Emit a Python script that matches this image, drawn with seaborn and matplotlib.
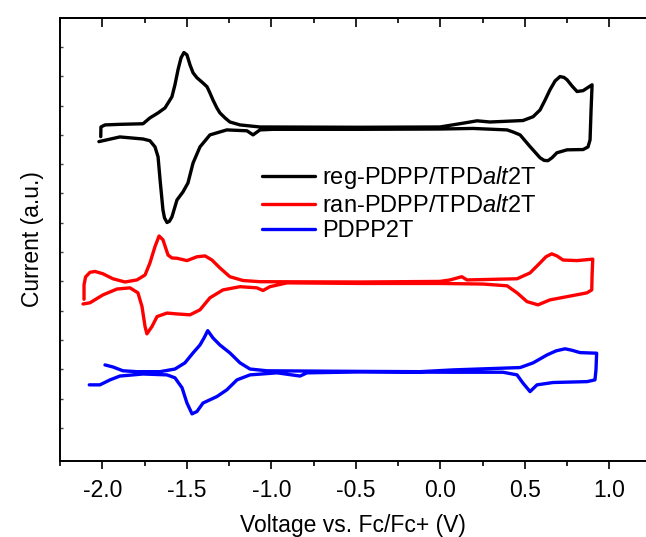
import numpy as np
import pandas as pd
import matplotlib
matplotlib.use('Agg')
import matplotlib.pyplot as plt
from matplotlib.ticker import MultipleLocator
import seaborn as sns

# cyclic voltammograms (V vs Fc/Fc+, current in a.u. with offsets)
reg_v = [-2.009, -2.008, -1.984, -1.896, -1.759, -1.718, -1.670, -1.629, -1.588, -1.570,
         -1.552, -1.534, -1.517, -1.499, -1.481, -1.463, -1.440, -1.404, -1.380, -1.363,
         -1.345, -1.322, -1.304, -1.274, -1.245, -1.185, -1.067, -0.475, -0.002, 0.146,
         0.217, 0.294, 0.489, 0.549, 0.590, 0.620, 0.649, 0.679, 0.708, 0.732,
         0.750, 0.779, 0.809, 0.845, 0.874, 0.898, 0.892, 0.886, 0.874, 0.845,
         0.750, 0.690, 0.661, 0.637, 0.614, 0.590, 0.531, 0.472, 0.430, 0.395, 0.193,
         -0.002, -0.475, -0.990, -1.067, -1.108, -1.144, -1.263, -1.363, -1.422, -1.463,
         -1.493, -1.523, -1.558, -1.588, -1.603, -1.617, -1.632, -1.641, -1.658, -1.670,
         -1.688, -1.718, -1.759, -1.896, -2.020]
reg_i = [9.94, 10.27, 10.34, 10.36, 10.38, 10.58, 10.75, 10.92, 11.30, 11.71,
         12.22, 12.63, 12.81, 12.73, 12.39, 12.12, 11.95, 11.77, 11.64, 11.43,
         11.19, 10.92, 10.75, 10.58, 10.44, 10.34, 10.27, 10.26, 10.27, 10.41,
         10.48, 10.44, 10.49, 10.62, 10.85, 11.19, 11.54, 11.84, 11.99, 11.96,
         11.88, 11.67, 11.48, 11.51, 11.62, 11.71, 10.85, 9.83, 9.59, 9.50,
         9.49, 9.39, 9.22, 9.12, 9.13, 9.22, 9.60, 10.00, 10.10, 10.17, 10.22,
         10.20, 10.19, 10.19, 10.17, 10.00, 10.14, 10.17, 10.00, 9.59, 9.04,
         8.36, 8.05, 7.78, 7.20, 7.05, 7.01, 7.17, 7.44, 8.46, 9.25,
         9.59, 9.80, 9.86, 9.93, 9.77]

ran_v = [-2.108, -2.108, -2.099, -2.073, -2.043, -1.996, -1.937, -1.866, -1.795, -1.747,
         -1.718, -1.688, -1.664, -1.641, -1.611, -1.588, -1.558, -1.499, -1.440, -1.392,
         -1.351, -1.304, -1.245, -1.167, -1.067, -0.475, -0.002, 0.057, 0.127, 0.158,
         0.454, 0.531, 0.590, 0.625, 0.659, 0.690, 0.726, 0.809, 0.902, 0.898,
         0.896, 0.868, 0.750, 0.649, 0.578, 0.513, 0.454, 0.395, 0.253, -0.002,
         -0.475, -0.907, -1.008, -1.049, -1.085, -1.185, -1.286, -1.363, -1.422, -1.481,
         -1.558, -1.617, -1.676, -1.706, -1.736, -1.747, -1.765, -1.789, -1.836, -1.913,
         -1.996, -2.073, -2.114]
ran_i = [4.39, 4.88, 5.15, 5.31, 5.34, 5.26, 5.09, 4.98, 5.05, 5.22,
         5.63, 6.19, 6.55, 6.42, 5.90, 5.80, 5.79, 5.71, 5.84, 5.87,
         5.73, 5.46, 5.16, 5.03, 4.99, 4.98, 5.00, 5.05, 5.16, 5.05,
         5.09, 5.29, 5.63, 5.84, 5.94, 5.87, 5.73, 5.71, 5.76, 5.22,
         4.71, 4.61, 4.48, 4.37, 4.20, 4.31, 4.61, 4.85, 4.91, 4.93,
         4.93, 4.95, 4.82, 4.69, 4.78, 4.82, 4.71, 4.44, 4.03, 3.86,
         3.89, 3.92, 3.80, 3.46, 3.21, 3.46, 4.14, 4.61, 4.78, 4.74,
         4.54, 4.27, 4.23]

pdpp_v = [-1.984, -1.937, -1.878, -1.795, -1.658, -1.570, -1.511, -1.463, -1.422, -1.398,
          -1.376, -1.345, -1.304, -1.245, -1.185, -1.126, -1.026, -0.475, -0.120, 0.075,
          0.472, 0.549, 0.631, 0.685, 0.738, 0.779, 0.827, 0.925, 0.921, 0.915,
          0.868, 0.667, 0.572, 0.531, 0.489, 0.454, 0.371, 0.075, -0.475, -0.789,
          -0.830, -0.966, -1.126, -1.203, -1.263, -1.322, -1.404, -1.440, -1.469, -1.499,
          -1.528, -1.570, -1.617, -1.759, -1.896, -1.954, -2.014, -2.077]
pdpp_i = [2.15, 2.08, 1.95, 1.92, 1.92, 2.01, 2.22, 2.56, 2.83, 3.07,
          3.32, 3.07, 2.83, 2.56, 2.22, 2.01, 1.95, 1.93, 1.92, 1.98,
          2.06, 2.22, 2.49, 2.63, 2.70, 2.65, 2.57, 2.55, 1.98, 1.64,
          1.58, 1.55, 1.47, 1.24, 1.53, 1.81, 1.90, 1.90, 1.91, 1.88,
          1.77, 1.88, 1.81, 1.64, 1.30, 1.07, 0.85, 0.56, 0.48, 0.85,
          1.37, 1.71, 1.81, 1.84, 1.77, 1.64, 1.47, 1.47]

labels = ['reg-PDPP/TPD$\\mathit{alt}$2T', 'ran-PDPP/TPD$\\mathit{alt}$2T', 'PDPP2T']
colors = ['#000000', '#ff0000', '#0000ff']

df = pd.concat([
    pd.DataFrame({'V': reg_v, 'I': reg_i, 'sample': labels[0]}),
    pd.DataFrame({'V': ran_v, 'I': ran_i, 'sample': labels[1]}),
    pd.DataFrame({'V': pdpp_v, 'I': pdpp_i, 'sample': labels[2]}),
], ignore_index=True)

sns.set_style('ticks')
plt.rcParams['font.family'] = ['Liberation Sans', 'DejaVu Sans']
plt.rcParams['mathtext.fontset'] = 'custom'
plt.rcParams['mathtext.rm'] = 'Liberation Sans'
plt.rcParams['mathtext.it'] = 'Liberation Sans:italic'
plt.rcParams['axes.unicode_minus'] = False
plt.rcParams['text.color'] = 'black'
plt.rcParams['axes.labelcolor'] = 'black'
plt.rcParams['xtick.color'] = 'black'
plt.rcParams['ytick.color'] = 'black'

fig = plt.figure(figsize=(6.46, 5.37), dpi=100)
ax = fig.add_axes([0.0924, 0.142, 0.9076, 0.824])

sns.lineplot(data=df, x='V', y='I', hue='sample', hue_order=labels, palette=colors,
             sort=False, estimator=None, linewidth=2.4, ax=ax,
             solid_joinstyle='round', solid_capstyle='round')

ax.set_xlim(-2.252, 1.217)
ax.set_ylim(-1.12, 13.98)
ax.set_xticks(np.arange(-2.0, 1.01, 0.5))
ax.xaxis.set_minor_locator(MultipleLocator(0.25))
ax.set_yticks(np.arange(0, 14))
ax.set_yticklabels([])
ax.tick_params(axis='x', which='major', direction='out', length=6, width=1.2,
               labelsize=16.5, pad=7, colors='black')
ax.tick_params(axis='x', which='minor', direction='out', length=3.5, width=1.2)
ax.tick_params(axis='y', which='major', direction='in', length=2.5, width=1, color='#444444')
ax.spines['right'].set_visible(False)
for s in ['left', 'bottom', 'top']:
    ax.spines[s].set_linewidth(1.4)
    ax.spines[s].set_color('black')

top = ax.secondary_xaxis('top')
top.set_xticks(np.arange(-2.0, 1.01, 0.5))
top.xaxis.set_minor_locator(MultipleLocator(0.25))
top.tick_params(which='major', direction='in', length=6.5, width=1.2, labeltop=False)
top.tick_params(which='minor', direction='in', length=3.5, width=1.2)
top.spines['top'].set_linewidth(1.4)

ax.set_xlabel('Voltage vs. Fc/Fc+ (V)', fontsize=16.5, labelpad=9)
ax.set_ylabel('Current (a.u.)', fontsize=16.5, labelpad=8)

leg = ax.get_legend()
handles = leg.legend_handles
ax.legend(handles, labels, loc='upper left', bbox_to_anchor=(0.345, 0.670), frameon=False,
          fontsize=17, handlelength=2.25, handletextpad=0.3, labelspacing=0.15,
          borderpad=0, borderaxespad=0)
for h in ax.get_legend().legend_handles:
    h.set_linewidth(2.4)

fig.savefig('out.png', dpi=100)
